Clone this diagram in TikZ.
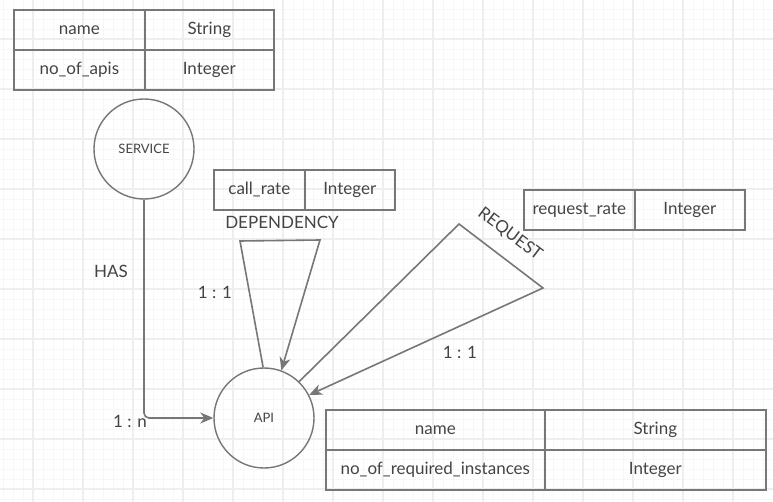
\documentclass[tikz,border=0pt]{standalone}
\usepackage{fontspec}
\setmainfont{Lato}
\usetikzlibrary{arrows.meta}
\definecolor{linegray}{HTML}{777777}
\definecolor{textgray}{HTML}{444444}
\definecolor{gridmajor}{HTML}{EEEEEE}
\definecolor{gridminor}{HTML}{F7F7F7}
\begin{document}
\begin{tikzpicture}[x=1pt,y=-1pt,
    cell/.style={draw=linegray,line width=1.6pt,anchor=north west,minimum height=40pt,inner sep=0pt,text=textgray,font=\fontsize{17}{20}\selectfont},
    entity/.style={shape=circle,draw=linegray,line width=1.4pt,minimum size=100pt,inner sep=0pt,text=textgray,font=\fontsize{13}{15}\selectfont},
    lbl/.style={text=textgray,font=\fontsize{17}{20}\selectfont,inner sep=0pt},
    conn/.style={draw=linegray,line width=1.6pt},
    tip/.style={-{Stealth[length=13pt,width=11pt,inset=4pt]}}]
    \useasboundingbox (0,0) rectangle (773,502);
    \fill[white] (0,0) rectangle (773,502);
    \foreach \gx in {3,13,...,773} \draw[gridminor,line width=0.8pt] (\gx,0) -- (\gx,502);
    \foreach \gy in {9,19,...,502} \draw[gridminor,line width=0.8pt] (0,\gy) -- (773,\gy);
    \foreach \gx in {33,83,...,773} \draw[gridmajor,line width=1.2pt] (\gx,0) -- (\gx,502);
    \foreach \gy in {39,89,...,502} \draw[gridmajor,line width=1.2pt] (0,\gy) -- (773,\gy);

    \node[cell,minimum width=131pt] (svcname) at (13,9) {name};
    \node[cell,minimum width=129pt] (svcnametype) at (144,9) {String};
    \node[cell,minimum width=131pt] (svcapis) at (13,49) {no\_of\_apis};
    \node[cell,minimum width=129pt] (svcapistype) at (144,49) {Integer};

    \node[cell,minimum width=91pt] (deprate) at (213,169) {call\_rate};
    \node[cell,minimum width=90pt] (depratetype) at (304,169) {Integer};

    \node[cell,minimum width=111pt] (reqrate) at (523,189) {request\_rate};
    \node[cell,minimum width=110pt] (reqratetype) at (634,189) {Integer};

    \node[cell,minimum width=219pt] (apiname) at (325,409) {name};
    \node[cell,minimum width=221pt] (apinametype) at (544,409) {String};
    \node[cell,minimum width=219pt] (apiinst) at (325,449) {no\_of\_required\_instances};
    \node[cell,minimum width=221pt] (apiinsttype) at (544,449) {Integer};

    \node[entity] (service) at (144,149) {SERVICE};
    \node[entity] (api) at (264,418) {API};

    \coordinate (depleft) at (240,241);
    \coordinate (depright) at (320,240);
    \coordinate (reqtop) at (459,224);
    \coordinate (reqright) at (543,288);

    \path[conn,tip,rounded corners=5pt] (service.south) |- (api.west);
    \path[conn,tip] (api.91) -- (depleft) -- (depright) -- (api.70);
    \path[conn,tip] (api.46) -- (reqtop) -- (reqright) -- (api.27);

    \node[lbl] (haslbl) at (111,271) {HAS};
    \node[lbl] (hascard) at (130,421) {1 : n};
    \node[lbl] (deplbl) at (282,222) {DEPENDENCY};
    \node[lbl] (depcard) at (215,292) {1 : 1};
    \node[lbl,rotate=-37] (reqlbl) at (510,234) {REQUEST};
    \node[lbl] (reqcard) at (460,352) {1 : 1};
\end{tikzpicture}
\end{document}
